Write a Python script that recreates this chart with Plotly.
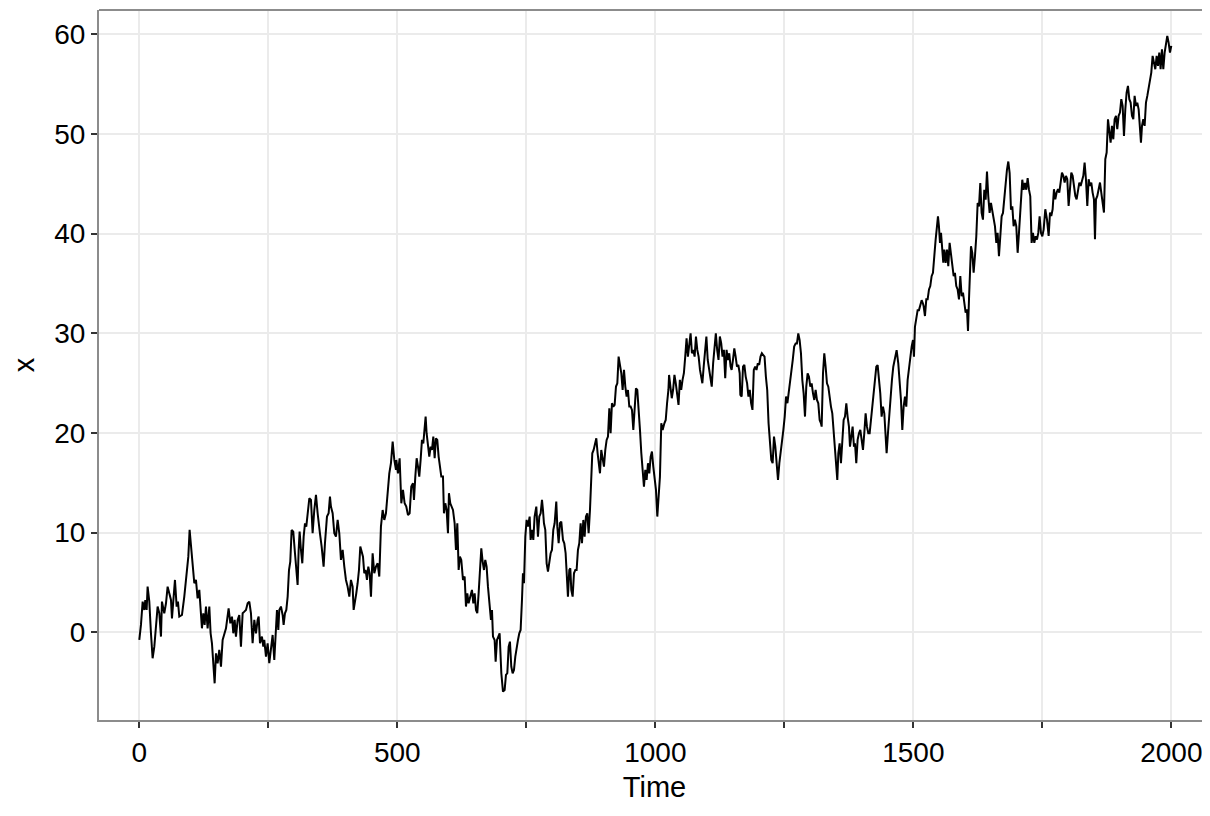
import plotly.graph_objects as go

time = [
    0, 3.2, 6.5, 9.7, 11.6, 14.2, 16.1, 19.4, 22.6, 25.8, 29.1, 32.3, 35.5, 38.8, 42.0, 43.9, 48.4, 51.7, 54.9, 58.1,
    61.4, 63.3, 65.9, 69.1, 72.4, 74.9, 77.5, 82.7, 87.2, 91.7, 95.0, 97.5, 100.8, 103.4, 106.6, 109.8, 113.0, 116.3,
    119.5, 121.4, 124.0, 126.6, 129.2, 132.4, 135.7, 138.2, 140.8, 143.4, 146.0, 148.6, 151.8, 155.0, 158.3, 161.5,
    164.7, 168.0, 173.1, 176.4, 179.6, 182.2, 184.8, 187.3, 190.6, 193.8, 197.0, 200.3, 203.5, 206.7, 210.0, 213.2,
    216.4, 219.6, 222.9, 226.1, 229.3, 231.3, 233.9, 237.7, 240.3, 242.2, 245.5, 248.7, 251.9,
    255.2, 258.4, 261.6, 264.9, 266.8, 269.4, 271.3, 274.5, 277.8, 279.7, 282.3, 284.9, 287.5, 290.1, 292.6, 295.2,
    298.4, 301.7, 304.3, 306.8, 308.8, 310.7, 313.3, 315.9, 318.5, 321.1, 323.6, 326.2, 329.5, 332.7, 335.9, 339.1,
    342.4, 345.6, 347.5, 350.1, 353.4, 357.2, 359.8, 363.7, 366.9, 369.5, 371.4, 374.7, 377.9, 381.1, 384.4, 387.6,
    390.8, 394.1, 397.3, 400.5, 403.7, 407.0, 410.2, 413.4, 415.4, 418.0, 420.5, 423.1, 425.7, 428.3, 430.9, 433.5,
    436.0, 438.6, 441.2, 443.8, 446.4, 449.0, 452.2, 455.4, 458.7, 461.9, 465.1, 468.3, 471.6, 474.8, 478.0, 481.3,
    484.5, 487.7, 491.0, 494.2, 497.4,
    498.1, 501.3, 504.5, 507.8, 511.0, 514.2, 517.4, 520.7, 523.9, 527.1, 530.4, 532.3, 534.9, 537.5, 540.1, 542.6,
    545.2, 547.8, 550.4, 553.0, 554.9, 556.8, 559.4, 562.0, 564.6, 567.2, 569.8, 572.4, 574.9, 577.5, 580.1, 582.7,
    585.3, 588.5, 590.4, 593.0, 595.6, 598.2, 600.1, 602.7, 604.7, 607.9, 611.1, 613.7, 616.3, 618.9, 621.4, 624.0,
    627.3, 630.5, 633.1, 635.7, 638.2, 640.8, 644.7, 647.3, 649.9, 652.5, 655.0, 657.6, 660.2, 662.8, 665.4, 668.0,
    670.5, 673.1, 675.7, 678.9, 681.5, 683.5, 685.4, 688.6, 690.6, 693.2, 696.4, 698.3, 701.6, 704.8, 708.0, 710.6,
    713.2, 715.8, 718.3, 720.9, 723.5, 726.1, 728.7, 731.3, 733.9, 736.4, 739.0, 741.6, 743.5, 745.5, 748.1, 750.6,
    753.2, 756.5,
    758.4, 761.0, 763.6, 766.1, 769.4, 772.6, 775.2, 777.8, 780.4, 782.3, 784.2, 786.8, 789.4, 792.0, 794.6, 797.2,
    799.7, 802.3, 804.9, 808.1, 810.1, 812.7, 815.2, 817.8, 821.1, 823.6, 826.2, 828.8, 830.7, 833.3, 835.3, 837.2,
    839.8, 842.4, 845.0, 847.5, 850.1, 852.7, 855.3, 857.9, 860.5, 863.0, 865.6, 868.2, 870.8, 873.4, 876.0, 877.9,
    880.5, 883.1, 885.7, 888.2, 890.8, 892.8, 895.3, 897.9, 900.5, 903.1, 905.7, 908.3, 910.9, 913.4, 916.0, 918.6,
    921.2, 923.8, 926.4, 928.9, 931.5, 934.1, 936.7, 939.3, 941.9, 944.4, 947.0, 949.6, 952.2, 954.8, 957.4, 959.9,
    962.5, 965.1, 967.7, 970.3, 972.9, 975.5, 978.0, 980.6, 983.2, 985.8, 988.4, 991.0, 993.5, 996.1, 998.7, 1001.3,
    1003.9, 1006.5, 1009.0, 1011.6, 1014.2,
    1017.6, 1020.2, 1022.8, 1025.4, 1026.7, 1029.3, 1031.9, 1034.5, 1037.1, 1039.7, 1042.3, 1045.0, 1047.6, 1050.2,
    1052.8, 1055.4, 1058.0, 1060.6, 1063.2, 1065.8, 1068.4, 1071.0, 1073.6, 1076.2, 1078.8, 1081.4, 1084.0, 1086.6,
    1089.3, 1091.2, 1093.8, 1096.4, 1099.0, 1101.6, 1104.2, 1106.8, 1109.4, 1112.1, 1114.7, 1117.3, 1119.9, 1122.5,
    1125.1, 1127.7, 1130.3, 1132.9, 1135.5, 1138.1, 1140.7, 1143.3, 1145.9, 1147.9, 1150.5, 1153.1, 1155.7, 1158.3,
    1160.9, 1163.5, 1164.8, 1167.4, 1170.0, 1172.6, 1175.2, 1177.9, 1180.5, 1183.1, 1185.7, 1188.3, 1190.9, 1193.5,
    1196.1, 1198.7, 1201.3, 1203.9, 1206.5, 1209.1, 1211.7, 1214.3, 1216.9, 1219.5, 1222.1, 1224.8, 1227.4, 1230.0,
    1232.6, 1235.2, 1237.8, 1240.4, 1243.0, 1245.6, 1248.2, 1250.8, 1253.4, 1256.0, 1258.6, 1261.2, 1263.8, 1266.4,
    1269.1,
    1272.0, 1274.5, 1277.1, 1279.7, 1282.3, 1284.9, 1287.5, 1290.1, 1292.6, 1295.2, 1297.8, 1300.4, 1303.0, 1305.6,
    1308.1, 1310.7, 1313.3, 1315.9, 1318.5, 1321.1, 1322.4, 1325.0, 1327.5, 1330.1, 1332.7, 1335.3, 1337.9, 1340.4,
    1343.0, 1345.6, 1348.2, 1350.8, 1352.7, 1354.7, 1357.2, 1359.8, 1362.4, 1365.0, 1367.6, 1370.2, 1372.7, 1375.3,
    1377.3, 1379.8, 1382.4, 1385.0, 1387.0, 1389.5, 1392.1, 1394.7, 1397.3, 1399.9, 1402.5, 1405.0, 1407.6, 1410.2,
    1412.8, 1415.4, 1418.0, 1420.5, 1423.1, 1425.7, 1428.3, 1430.9, 1433.5, 1436.0, 1438.6, 1441.2, 1443.8, 1446.4,
    1448.3, 1450.9, 1453.5, 1456.1, 1458.6, 1461.2, 1464.5, 1467.7, 1470.9, 1473.5, 1476.1, 1478.7, 1481.3, 1483.9,
    1486.4, 1489.0, 1491.6, 1494.2, 1496.8, 1499.4, 1501.3, 1503.2, 1505.8, 1508.4, 1511.0, 1513.6, 1516.2, 1518.7,
    1520.0, 1522.6, 1525.2, 1527.8, 1530.4, 1532.9, 1535.5, 1538.1, 1540.7, 1543.3, 1545.9, 1547.8, 1549.7, 1551.7,
    1553.7, 1556.2, 1558.1, 1560.1, 1562.7, 1565.3, 1567.8, 1570.4, 1573.0, 1575.6, 1578.2, 1580.7, 1583.3, 1585.9,
    1588.5, 1591.1, 1593.7, 1596.3, 1598.8, 1601.4, 1604.0, 1606.0, 1607.9, 1609.8, 1611.8, 1614.3, 1616.9, 1619.5,
    1622.1, 1624.7, 1627.3, 1629.8, 1632.4, 1635.0, 1637.6, 1640.2, 1642.8, 1645.3, 1647.9, 1650.5, 1653.1, 1655.7,
    1658.3, 1660.9, 1663.4, 1666.0, 1668.6, 1671.2, 1673.8, 1676.4, 1678.9, 1681.5, 1684.1, 1686.7, 1689.3, 1691.9,
    1694.4, 1697.0, 1699.6, 1702.2, 1704.8, 1707.4, 1710.0, 1711.2, 1713.8, 1716.4, 1719.0, 1721.6, 1724.2, 1726.7,
    1729.3, 1731.9, 1734.5, 1737.1, 1739.7, 1742.2, 1744.8, 1747.4, 1750.0, 1752.6,
    1755.8, 1759.0, 1762.3, 1764.9, 1767.4, 1770.0, 1772.6, 1775.2, 1777.8, 1780.4, 1782.9, 1785.5, 1788.1, 1790.7,
    1793.3, 1795.9, 1798.4, 1801.0, 1803.6, 1806.2, 1808.8, 1811.4, 1814.0, 1816.5, 1819.1, 1821.7, 1824.3, 1826.9,
    1829.5, 1832.0, 1834.6, 1837.2, 1839.8, 1842.4, 1845.0, 1847.5, 1850.1, 1852.1, 1854.0, 1856.6, 1859.2, 1861.8,
    1864.3, 1866.9, 1869.5, 1872.1, 1874.7, 1877.3, 1879.8, 1882.4, 1885.0, 1887.6, 1890.2, 1892.8, 1895.3, 1897.9,
    1900.5, 1903.1, 1905.7, 1908.3, 1910.9, 1913.4, 1916.0, 1918.6, 1921.2, 1923.8, 1926.4, 1928.9, 1931.5, 1934.1,
    1936.7, 1939.3, 1941.2, 1943.2, 1945.7, 1948.3, 1950.9, 1953.5, 1956.1, 1958.7, 1961.2, 1963.8, 1966.4, 1969.0,
    1971.6, 1974.2, 1976.7, 1979.3, 1981.9, 1984.5, 1987.1, 1989.7, 1992.2, 1994.8, 1997.4, 2000.0,
]

x_values = [
    -0.77, 0.74, 3.08, 2.24, 3.24, 2.24, 4.58, 3.08, -0.10, -2.61, -1.44, 0.57, 2.58, 1.91, -0.43, 3.08, 1.91, 2.91, 4.58, 3.91,
    3.24, 1.40, 3.24, 5.25, 2.58, 3.08, 1.57, 1.74, 3.58, 5.92, 7.59, 10.27, 8.60, 7.26, 4.92, 5.25, 3.41, 4.25,
    2.24, 0.40, 1.91, 0.74, 2.58, 0.40, 2.58, -0.10, -1.10, -3.11, -5.12, -2.11, -3.11, -1.77, -3.44, -0.77,
    -0.27, 0.40, 2.41, 0.90, 1.57, -0.10, 1.24, -0.43, 1.24, 1.74, -1.44, 1.91, 2.07, 2.24, 2.91, 3.08,
    1.91, -1.10, 1.24, -0.10, 1.24, 1.57, -1.10, -0.43, -1.44, -0.77, -2.44, -1.10, -3.10,
    -1.44, -0.27, -2.78, 0.57, 2.24, 0.23, 2.24, 2.58, 1.74, 0.74, 1.91, 2.24, 3.58, 6.25, 7.09, 10.27,
    10.10, 7.93, 6.25, 4.75, 8.26, 10.10, 8.26, 6.92, 9.60, 10.94, 10.60, 11.61, 13.44, 13.28, 9.93, 12.27,
    13.78, 11.94, 11.27, 9.93, 8.60, 6.59, 8.93, 11.61, 11.94, 13.61, 12.61, 11.94, 9.93, 9.60, 11.27, 9.93,
    7.26, 8.26, 6.59, 5.25, 4.58, 3.58, 5.25, 4.58, 2.24, 2.91, 3.91, 4.92, 6.25, 8.60, 7.93, 7.59,
    5.92, 6.25, 5.25, 6.59, 5.92, 3.58, 7.93, 5.92, 6.59, 6.92, 5.59, 10.60, 12.27, 11.27, 11.94, 14.28,
    15.95, 16.96, 19.13, 17.29, 16.29,
    17.29, 15.95, 17.46, 12.94, 14.28, 12.94, 12.61, 11.77, 11.94, 14.62, 14.95, 13.28, 15.62, 17.46, 16.62, 15.62,
    17.29, 19.30, 18.96, 20.64, 21.64, 19.97, 18.63, 17.63, 18.63, 18.29, 19.63, 17.46, 19.46, 19.30, 17.63, 16.62,
    15.62, 15.62, 11.94, 12.94, 12.27, 9.93, 13.95, 12.94, 12.61, 12.27, 10.94, 8.26, 10.94, 6.25, 7.59, 7.26,
    5.25, 5.59, 2.58, 3.91, 2.91, 3.58, 4.25, 2.91, 3.91, 2.24, 1.91, 3.91, 5.92, 8.43, 7.09, 6.25,
    7.26, 6.59, 4.58, 2.24, 1.24, 2.24, -0.43, -0.77, -2.94, -0.77, -0.43, -0.10, -4.11, -5.95, -5.79, -4.28,
    -4.11, -1.44, -0.94, -3.44, -4.11, -3.78, -2.44, -1.44, -0.77, -0.10, 0.23, 3.24, 5.92, 4.92, 9.60, 11.27,
    10.60, 11.61,
    9.26, 10.27, 9.26, 11.61, 12.61, 9.60, 11.61, 11.94, 13.28, 12.27, 10.94, 10.27, 6.92, 6.09, 7.26, 7.93,
    8.26, 10.27, 10.94, 13.11, 10.60, 8.93, 10.94, 11.10, 9.26, 8.93, 7.93, 5.59, 3.58, 6.25, 6.42, 4.25,
    3.58, 5.92, 6.25, 6.25, 8.26, 8.93, 10.94, 8.93, 11.27, 9.60, 11.61, 11.94, 9.93, 12.27, 14.95, 17.96,
    18.29, 18.96, 19.46, 17.96, 16.62, 15.95, 18.29, 17.46, 16.62, 18.29, 19.30, 19.63, 22.47, 19.97, 22.98, 22.64,
    22.81, 24.65, 24.98, 27.66, 26.66, 25.99, 24.31, 26.32, 24.65, 23.65, 24.31, 22.64, 22.64, 22.31, 20.30, 22.64,
    24.48, 24.31, 22.64, 20.30, 17.96, 15.62, 14.62, 16.29, 15.28, 16.96, 15.95, 17.63, 18.13, 16.62, 15.28, 14.28,
    11.61, 14.28, 15.62, 20.97, 20.30,
    20.97, 21.30, 22.98, 24.31, 25.82, 24.31, 23.48, 24.31, 25.82, 24.98, 23.98, 22.81, 25.32, 24.31,
    25.32, 25.99, 27.66, 29.50, 27.66, 29.00, 30.00, 27.99, 28.33, 27.66, 29.67, 28.33, 27.66, 26.32,
    25.32, 24.98, 26.66, 28.33, 29.67, 27.32, 26.32, 25.32, 24.65, 26.99, 28.33, 30.00, 28.33, 27.32,
    29.67, 29.00, 27.66, 28.33, 25.48, 28.33, 27.32, 27.99, 26.66, 26.32, 27.32, 28.49, 27.66, 26.66,
    26.82, 25.99, 23.81, 23.65, 26.66, 26.82, 25.65, 24.98, 23.65, 24.31, 22.98, 22.31, 26.32, 26.66,
    26.32, 26.99, 26.82, 27.66, 27.99, 27.83, 27.66, 25.65, 24.31, 20.97, 19.30, 17.29, 16.96, 19.63,
    18.63, 16.96, 15.28, 16.96, 17.96, 18.96, 20.30, 21.64, 23.65, 22.98, 23.98, 24.98, 25.99, 27.32,
    28.66,
    28.98, 28.98, 29.98, 29.32, 27.98, 25.31, 23.97, 21.64, 24.64, 25.98, 25.64, 24.64, 24.97, 23.97,
    23.31, 24.31, 23.31, 22.97, 21.30, 20.97, 20.63, 25.98, 27.98, 26.64, 24.97, 24.64, 23.31, 22.64,
    21.97, 19.97, 17.96, 16.96, 15.29, 17.96, 18.96, 16.96, 19.97, 21.30, 21.64, 22.97, 21.64, 20.63,
    18.63, 19.63, 20.63, 18.63, 18.96, 16.96, 19.30, 19.97, 20.30, 19.30, 18.30, 19.97, 21.97, 20.63,
    19.97, 19.97, 21.30, 22.64, 23.97, 25.31, 26.64, 26.81, 25.31, 23.97, 21.64, 22.64, 21.97, 19.97,
    17.96, 19.97, 21.97, 22.97, 25.31, 26.64, 27.65, 28.31, 26.98, 25.31, 23.31, 20.30, 22.64, 23.64,
    22.64, 25.31, 26.64, 27.31, 28.65, 29.32, 27.65, 30.65, 31.32, 32.32, 32.32, 32.99, 33.32, 32.99,
    32.73, 31.73, 33.40, 33.40, 34.40, 34.73, 35.73, 36.07, 38.07, 39.40, 40.73, 41.73, 40.73, 39.07,
    40.07, 38.73, 37.07, 38.40, 37.07, 38.40, 36.73, 39.07, 37.73, 36.73, 35.73, 36.07, 34.73, 34.40,
    33.40, 35.73, 33.73, 34.07, 32.73, 32.07, 32.40, 30.23, 33.40, 35.73, 38.73, 38.07, 36.07, 37.73,
    39.73, 43.07, 42.73, 45.07, 42.07, 41.40, 44.40, 43.40, 46.23, 43.73, 42.07, 43.07, 42.40, 41.40,
    40.73, 39.07, 40.07, 37.73, 40.40, 41.73, 42.07, 43.73, 44.73, 46.40, 47.23, 46.07, 42.40, 42.73,
    40.73, 41.40, 40.73, 38.07, 40.07, 42.07, 43.40, 45.40, 44.40, 45.07, 44.40, 45.57, 44.40, 43.73,
    39.07, 40.07, 39.07, 39.73, 39.40, 40.07, 41.73, 40.07, 39.73, 40.40,
    42.44, 41.44, 39.77, 42.11, 41.77, 42.44, 44.45, 43.44, 44.11, 44.45, 44.11, 45.12, 46.12, 45.79,
    45.12, 45.79, 45.45, 42.78, 44.78, 46.12, 45.79, 44.45, 43.78, 43.44, 44.45, 45.12, 44.78, 45.45,
    45.79, 47.12, 45.45, 42.78, 45.45, 44.78, 45.12, 44.11, 43.44, 39.43, 43.44, 43.78, 44.45, 45.12,
    44.11, 42.78, 42.11, 47.46, 48.13, 51.47, 50.13, 49.13, 50.80, 49.46, 51.47, 51.81, 50.47, 51.81,
    52.14, 53.48, 52.81, 49.80, 52.47, 54.15, 54.82, 53.48, 53.14, 51.81, 51.47, 53.81, 52.81, 53.14,
    52.47, 50.13, 49.13, 50.80, 51.47, 50.80, 53.14, 53.81, 54.48, 55.15, 56.15, 57.83, 57.16, 56.49,
    57.83, 56.82, 58.16, 56.49, 58.49, 56.49, 58.16, 59.16, 59.83, 59.16, 58.16, 58.83,
]

x_tick_vals = [0, 250, 500, 750, 1000, 1250, 1500, 1750, 2000]
x_tick_text = ["0", "", "500", "", "1000", "", "1500", "", "2000"]
y_tick_vals = [0, 10, 20, 30, 40, 50, 60]

FONT = "Liberation Sans, Arial, Helvetica, sans-serif"
BORDER = "#8c8c8c"
GRID = "#ebebeb"

fig = go.Figure(
    go.Scatter(
        x=time, y=x_values, mode="lines",
        line=dict(color="black", width=2),
        showlegend=False, hoverinfo="skip",
    )
)

# The page body adds an 8px offset, so the figure is 8px smaller than the window.
fig.update_layout(
    width=1202, height=808,
    margin=dict(l=91, r=0, t=2, b=96),
    paper_bgcolor="white", plot_bgcolor="white",
    font=dict(family=FONT, size=28, color="black"),
    shapes=[dict(type="line", xref="paper", yref="paper", x0=0, x1=1, y0=1, y1=1,
                 line=dict(color=BORDER, width=2))],
)
fig.update_xaxes(
    range=[-78.1, 2075], tickvals=x_tick_vals, ticktext=x_tick_text,
    showgrid=True, gridcolor=GRID, gridwidth=1.8,
    showline=True, linecolor=BORDER, linewidth=2,
    ticks="outside", ticklen=6, tickwidth=1.5, tickcolor="#333333",
    tickfont=dict(size=28, color="black"), zeroline=False,
    title=dict(text="Time", font=dict(size=29, color="black"), standoff=10),
)
fig.update_yaxes(
    range=[-8.8, 62.43], tickvals=y_tick_vals,
    showgrid=True, gridcolor=GRID, gridwidth=1.8,
    showline=True, linecolor=BORDER, linewidth=2,
    ticks="outside", ticklen=6, tickwidth=1.5, tickcolor="#333333",
    tickfont=dict(size=28, color="black"), zeroline=False,
    title=dict(text="x", font=dict(size=29, color="black"), standoff=19),
)

fig.write_html("out.html")
